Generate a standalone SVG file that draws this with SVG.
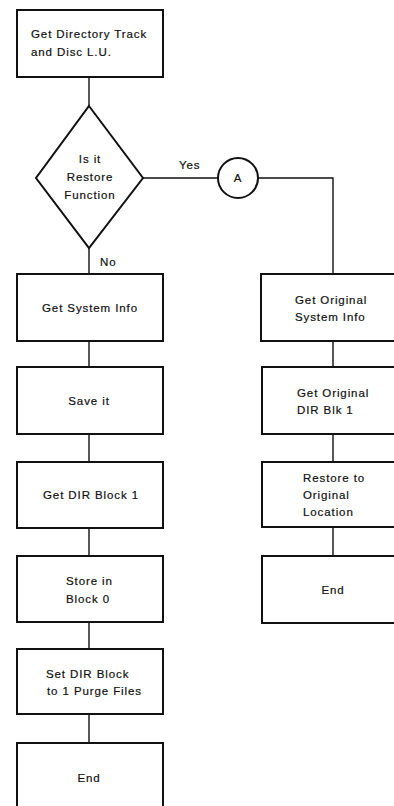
<svg xmlns="http://www.w3.org/2000/svg" width="394" height="806" viewBox="0 0 394 806">
<style>
.box{fill:#fff;stroke:#111;stroke-width:2}
.ln{fill:none;stroke:#111;stroke-width:1.4}
text{font-family:"Liberation Sans",Arial,sans-serif;font-size:11.5px;fill:#111;letter-spacing:0.9px;stroke:#111;stroke-width:0.2}
.c{text-anchor:middle}
</style>
<rect width="394" height="806" fill="#fff"/>
<g id="connectors">
<line class="ln" x1="89" y1="77" x2="89" y2="106"/>
<line class="ln" x1="89" y1="248" x2="89" y2="274"/>
<line class="ln" x1="143" y1="178" x2="218" y2="178"/>
<polyline class="ln" points="258,178 333,178 333,274"/>
<line class="ln" x1="89" y1="341" x2="89" y2="367"/>
<line class="ln" x1="89" y1="434" x2="89" y2="462"/>
<line class="ln" x1="89" y1="528" x2="89" y2="556"/>
<line class="ln" x1="89" y1="622" x2="89" y2="649"/>
<line class="ln" x1="89" y1="714" x2="89" y2="743"/>
<line class="ln" x1="333" y1="341" x2="333" y2="367"/>
<line class="ln" x1="333" y1="434" x2="333" y2="462"/>
<line class="ln" x1="333" y1="527" x2="333" y2="556"/>
<text x="179" y="169">Yes</text>
<text x="100" y="266">No</text>
</g>
<g id="n1"><rect class="box" x="17" y="10" width="146" height="67"/>
<text x="31" y="38">Get Directory Track</text><text x="31" y="56">and Disc L.U.</text></g>
<g id="d1"><polygon class="box" points="89,106 143,178 89,248 36,178"/>
<text class="c" x="90" y="163">Is it</text><text class="c" x="90" y="181">Restore</text><text class="c" x="90" y="199">Function</text></g>
<g id="cA"><circle class="box" cx="238" cy="178" r="20"/><text class="c" x="238" y="182">A</text></g>
<g id="n2"><rect class="box" x="17" y="274" width="146" height="67"/><text class="c" x="90" y="312">Get System Info</text></g>
<g id="n3"><rect class="box" x="17" y="367" width="146" height="67"/><text class="c" x="89" y="405">Save it</text></g>
<g id="n4"><rect class="box" x="17" y="462" width="146" height="66"/><text class="c" x="91" y="499">Get DIR Block 1</text></g>
<g id="n5"><rect class="box" x="17" y="556" width="146" height="66"/><text x="66" y="585">Store in</text><text x="66" y="603">Block 0</text></g>
<g id="n6"><rect class="box" x="17" y="649" width="146" height="65"/><text x="46" y="678">Set DIR Block</text><text x="47" y="695">to 1 Purge Files</text></g>
<g id="n7"><rect class="box" x="17" y="743" width="146" height="70"/><text class="c" x="89" y="782">End</text></g>
<g id="r1"><rect class="box" x="261" y="274" width="140" height="67"/><text x="295" y="304">Get Original</text><text x="295" y="321">System Info</text></g>
<g id="r2"><rect class="box" x="262" y="367" width="139" height="67"/><text x="297" y="397">Get Original</text><text x="297" y="414">DIR Blk 1</text></g>
<g id="r3"><rect class="box" x="262" y="462" width="139" height="65"/><text x="303" y="482">Restore to</text><text x="303" y="499">Original</text><text x="303" y="516">Location</text></g>
<g id="r4"><rect class="box" x="262" y="556" width="139" height="67"/><text class="c" x="333" y="594">End</text></g>
</svg>
